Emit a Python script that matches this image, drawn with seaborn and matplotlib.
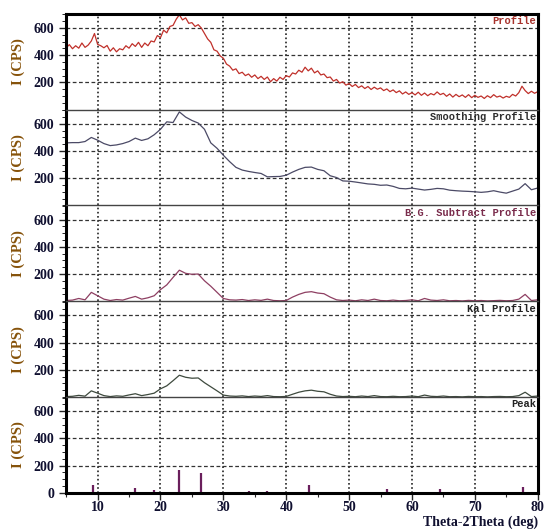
# XRD pattern: profile, smoothing, background subtraction, Ka1, peaks

import numpy as np
import pandas as pd
import matplotlib
matplotlib.use("Agg")
import matplotlib.pyplot as plt
from matplotlib.ticker import MultipleLocator
import seaborn as sns

# Raw profile, 0.5 deg steps from 5 to 80
raw_counts = [
    455, 478, 448, 470, 452, 490, 458, 475, 505, 560,
    480, 470, 455, 472, 430, 455, 425, 448, 440, 470,
    452, 485, 465, 495, 458, 490, 470, 505, 498, 545,
    530, 585, 565, 612, 620, 665, 698, 660, 675, 635,
    640, 612, 625, 600, 560, 520, 495, 440, 430, 395,
    378, 335, 320, 290, 300, 265, 275, 250, 262, 238,
    255, 228, 245, 222, 240, 205, 228, 210, 238, 222,
    250, 240, 270, 262, 290, 275, 312, 285, 305, 270,
    285, 255, 262, 235, 240, 210, 222, 195, 205, 180,
    192, 170, 185, 162, 175, 155, 170, 148, 165, 150,
    160, 140, 152, 132, 145, 125, 138, 115, 130, 112,
    125, 108, 128, 105, 122, 102, 118, 108, 130, 110,
    120, 98, 115, 92, 112, 95, 108, 90, 110, 88,
    105, 90, 100, 82, 102, 88, 110, 92, 100, 85,
    98, 90, 112, 100, 125, 172, 140, 118, 135, 120,
    132,
]

# Smoothed / background-subtracted / Ka1 curves, 1 deg steps from 5 to 80
smooth_counts = [
    460, 462, 462, 470, 500, 480, 455, 440, 445, 455,
    470, 495, 478, 490, 520, 560, 615, 610, 688, 650,
    625, 606, 560, 460, 420, 369, 322, 280, 260, 250,
    242, 235, 210, 212, 213, 222, 245, 265, 280, 282,
    265, 255, 218, 205, 180, 178, 172, 165, 158, 155,
    148, 150, 140, 125, 122, 127, 120, 113, 118, 125,
    122, 112, 108, 105, 103, 100, 96, 100, 108, 98,
    90, 105, 120, 160, 115, 128,
]
bg_sub_counts = [
    5, 8, 20, 10, 65, 40, 15, 5, 12, 8,
    22, 35, 15, 25, 40, 85, 120, 175, 228, 205,
    198, 200, 150, 110, 65, 20, 10, 8, 12, 5,
    10, 6, 15, 5, 3, 5, 30, 50, 65, 70,
    60, 55, 30, 10, 5, 8, 3, 10, 5, 15,
    5, 3, 8, 3, 5, 10, 3, 20, 8, 5,
    10, 3, 5, 2, 6, 3, 5, 2, 4, 6,
    3, 5, 15, 50, 5, 10,
]
ka1_counts = [
    3, 5, 12, 6, 45, 28, 10, 3, 8, 5,
    15, 24, 10, 18, 28, 60, 82, 120, 160, 145,
    138, 140, 105, 75, 45, 14, 7, 5, 8, 3,
    7, 4, 10, 3, 2, 4, 20, 35, 45, 50,
    42, 38, 20, 7, 3, 5, 2, 7, 3, 10,
    3, 2, 5, 2, 3, 7, 2, 14, 5, 3,
    7, 2, 3, 1, 4, 2, 3, 1, 3, 4,
    2, 3, 10, 35, 3, 7,
]

# Peak list
peak_pos = [9.3, 16.0, 18.9, 23.0, 26.4, 34.0, 36.9, 43.7, 48.6, 56.0, 59.7, 64.5, 68.7, 77.7]
peak_int = [55, 35, 20, 168, 148, 15, 15, 55, 5, 25, 8, 25, 8, 45]

panel_names = ["Profile", "Smoothing Profile", "B.G. Subtract Profile", "Kal Profile", "Peak"]
line_colors = ["#c0302a", "#4b4a66", "#8e3f62", "#3e4a3e", "#6a1f5c"]
name_colors = ["#a8322c", "#2e2e2e", "#7a2c4c", "#222222", "#222222"]

raw_df = pd.DataFrame({"theta": 5 + 0.5 * np.arange(len(raw_counts)), "cps": raw_counts})
step_theta = 5 + np.arange(len(smooth_counts))
curves = [
    raw_df,
    pd.DataFrame({"theta": step_theta, "cps": smooth_counts}),
    pd.DataFrame({"theta": step_theta, "cps": bg_sub_counts}),
    pd.DataFrame({"theta": step_theta, "cps": ka1_counts}),
]

sns.set_style("white")
plt.rcParams["font.family"] = ["Liberation Serif", "DejaVu Serif"]

fig, axes = plt.subplots(5, 1, sharex=True, figsize=(5.47, 5.31), dpi=100)
fig.subplots_adjust(left=0.121, right=0.983, top=0.974, bottom=0.072, hspace=0)

for i, ax in enumerate(axes):
    if i < 4:
        sns.lineplot(data=curves[i], x="theta", y="cps", ax=ax,
                     color=line_colors[i], linewidth=0.9)
    else:
        ax.vlines(peak_pos, 0, peak_int, color=line_colors[i], linewidth=1.6)

    ax.set_xlim(5, 80)
    ax.set_ylim(0, 705)
    ax.set_yticks([0, 200, 400, 600] if i == 4 else [200, 400, 600])
    ax.yaxis.set_minor_locator(MultipleLocator(50))
    ax.xaxis.set_major_locator(MultipleLocator(10))
    ax.xaxis.set_minor_locator(MultipleLocator(5))

    ax.grid(True, axis="y", linestyle=(0, (3, 2)), color="#333333", linewidth=0.9)
    ax.grid(True, axis="x", linestyle=(0, (1, 1.5)), color="#222222", linewidth=1.2)

    ax.tick_params(axis="y", which="major", direction="out", length=5, width=1,
                   labelsize=10, labelcolor="#101030", left=True)
    ax.tick_params(axis="y", which="minor", direction="out", length=3, width=0.7, left=True)
    for lab in ax.get_yticklabels():
        lab.set_fontweight("bold")

    ax.set_ylabel("I (CPS)", fontsize=10.5, fontweight="bold", color="#86520a", labelpad=6)
    ax.set_xlabel("")

    for side in ["left", "right"]:
        ax.spines[side].set_linewidth(2.2)
        ax.spines[side].set_color("black")
    ax.spines["top"].set_linewidth(2.2 if i == 0 else 1.0)
    ax.spines["top"].set_color("black" if i == 0 else "#444444")
    ax.spines["bottom"].set_visible(i == 4)
    ax.spines["bottom"].set_linewidth(2.2)
    ax.spines["bottom"].set_color("black")

    ax.text(0.996, 0.975, panel_names[i], transform=ax.transAxes, ha="right", va="top",
            family="Liberation Mono", fontweight="bold", fontsize=7.5, color=name_colors[i])

    if i < 4:
        ax.tick_params(axis="x", which="both", bottom=False, labelbottom=False)

bottom = axes[-1]
bottom.tick_params(axis="x", which="major", direction="out", length=5, width=1, pad=1,
                   labelsize=10, labelcolor="#101030", bottom=True)
bottom.tick_params(axis="x", which="minor", direction="out", length=3, width=0.8, bottom=True)
bottom.set_xticks([10, 20, 30, 40, 50, 60, 70, 80])
for lab in bottom.get_xticklabels():
    lab.set_fontweight("bold")
bottom.set_xlabel("Theta-2Theta (deg)", fontsize=10, fontweight="bold",
                  color="#101030", loc="right", labelpad=1)

fig.align_ylabels(axes)
plt.savefig("out.png", dpi=100, facecolor="white")
